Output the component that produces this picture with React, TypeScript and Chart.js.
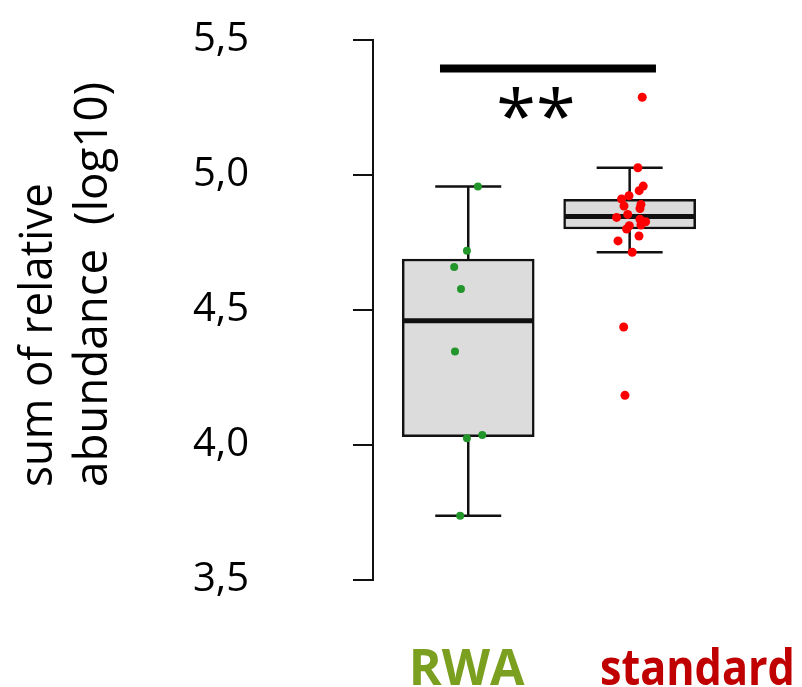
import { useEffect, useRef } from 'react';
import { Chart, registerables } from 'chart.js';

Chart.register(...registerables);

// ---------- data ----------
const categories = ['RWA', 'standard'];
const categoryColors = ['#7b9f1f', '#c00000'];
const pointColors = ['#22962a', '#ff0000'];

const boxMin = [3.738, 4.714];
const boxQ1 = [4.031, 4.8];
const boxMedian = [4.46, 4.846];
const boxQ3 = [4.689, 4.91];
const boxMax = [4.957, 5.027];

const rwaJitter = [1.06, 0.992, 0.913, 0.955, 0.918, 0.992, 1.087, 0.95];
const rwaValues = [4.957, 4.719, 4.659, 4.578, 4.346, 4.025, 4.037, 3.738];

const standardJitter = [
  2.078, 2.051, 2.084, 2.059, 1.996, 1.95, 1.965, 2.07, 2.064, 1.988, 1.919,
  2.064, 2.099, 2.07, 1.998, 1.981, 2.058, 1.928, 2.016, 1.963, 1.971,
];
const standardValues = [
  5.288, 5.027, 4.959, 4.942, 4.923, 4.911, 4.885, 4.891, 4.876, 4.854, 4.843,
  4.836, 4.827, 4.815, 4.812, 4.8, 4.774, 4.756, 4.714, 4.437, 4.184,
];

const yTickValues = [3.5, 4.0, 4.5, 5.0, 5.5];
const yTitleLines = ['sum of relative', 'abundance  (log10)'];
const significanceLabel = '**';
const significanceLevel = 5.394;
const significanceSpan = [0.825, 2.163];

// ---------- plugin ----------
const FONT = '"Open Sans", "Noto Sans", sans-serif';
const BAR_INDEX = 2;

const boxPlotPlugin = {
  id: 'boxPlotExtras',
  afterDatasetDraw(chart: any, args: any) {
    if (args.index !== BAR_INDEX) return;
    const { ctx, scales } = chart;
    const xs = scales.x;
    const ys = scales.y;
    ctx.save();
    ctx.strokeStyle = '#111111';
    ctx.lineCap = 'butt';
    categories.forEach((_, i) => {
      const cx = xs.getPixelForValue(i + 1);
      const halfCap = 33;
      const halfBox = 65;
      const pMin = ys.getPixelForValue(boxMin[i]);
      const pQ1 = ys.getPixelForValue(boxQ1[i]);
      const pQ3 = ys.getPixelForValue(boxQ3[i]);
      const pMax = ys.getPixelForValue(boxMax[i]);
      const pMed = ys.getPixelForValue(boxMedian[i]);
      ctx.lineWidth = 2.5;
      ctx.beginPath();
      ctx.moveTo(cx, pQ3);
      ctx.lineTo(cx, pMax);
      ctx.moveTo(cx - halfCap, pMax);
      ctx.lineTo(cx + halfCap, pMax);
      ctx.moveTo(cx, pQ1);
      ctx.lineTo(cx, pMin);
      ctx.moveTo(cx - halfCap, pMin);
      ctx.lineTo(cx + halfCap, pMin);
      ctx.stroke();
      ctx.lineWidth = 5;
      ctx.beginPath();
      ctx.moveTo(cx - halfBox, pMed);
      ctx.lineTo(cx + halfBox, pMed);
      ctx.stroke();
    });
    ctx.restore();
  },
  afterDraw(chart: any) {
    const { ctx, scales } = chart;
    const xs = scales.x;
    const ys = scales.y;
    ctx.save();

    // y title
    ctx.fillStyle = '#000';
    ctx.font = `46px ${FONT}`;
    ctx.textAlign = 'left';
    ctx.textBaseline = 'alphabetic';
    ctx.save();
    ctx.translate(52, 487);
    ctx.rotate(-Math.PI / 2);
    ctx.fillText(yTitleLines[0], 0, 0, 304);
    ctx.fillText(yTitleLines[1], 0, 55, 405);
    ctx.restore();

    // significance bar
    const sy = ys.getPixelForValue(significanceLevel);
    ctx.strokeStyle = '#000';
    ctx.lineWidth = 8;
    ctx.beginPath();
    ctx.moveTo(xs.getPixelForValue(significanceSpan[0]), sy);
    ctx.lineTo(xs.getPixelForValue(significanceSpan[1]), sy);
    ctx.stroke();

    // stars
    ctx.font = `72px ${FONT}`;
    ctx.textAlign = 'center';
    const m = ctx.measureText(significanceLabel);
    const cy = ys.getPixelForValue(5.267);
    const base = cy + (m.actualBoundingBoxAscent - m.actualBoundingBoxDescent) / 2;
    ctx.fillText(significanceLabel, xs.getPixelForValue(1.42), base);

    // category labels
    ctx.font = `bold 50px ${FONT}`;
    ctx.textBaseline = 'alphabetic';
    const labelPos = [0.99, 2.42];
    const labelWidth = [121, 195];
    categories.forEach((c, i) => {
      ctx.fillStyle = categoryColors[i];
      ctx.fillText(c, xs.getPixelForValue(labelPos[i]), 685, labelWidth[i]);
    });
    ctx.restore();
  },
};

export default function App() {
  const ref = useRef<HTMLCanvasElement | null>(null);

  useEffect(() => {
    document.body.style.margin = '0';
    if (!ref.current) return;
    const chart = new Chart(ref.current, {
      type: 'bar',
      data: {
        datasets: [
          {
            type: 'scatter',
            label: 'standard',
            data: standardJitter.map((x, i) => ({ x, y: standardValues[i] })),
            backgroundColor: pointColors[1],
            borderWidth: 0,
            pointRadius: 4.5,
          } as any,
          {
            type: 'scatter',
            label: 'RWA',
            data: rwaJitter.map((x, i) => ({ x, y: rwaValues[i] })),
            backgroundColor: pointColors[0],
            borderWidth: 0,
            pointRadius: 4,
          } as any,
          {
            type: 'bar',
            label: 'box',
            data: categories.map((_, i) => ({ x: i + 1, y: [boxQ1[i], boxQ3[i]] })),
            backgroundColor: '#dcdcdc',
            borderColor: '#111111',
            borderWidth: 2.5,
            borderSkipped: false,
            barThickness: 132,
          } as any,
        ],
      },
      options: {
        animation: false,
        responsive: true,
        maintainAspectRatio: false,
        events: [],
        layout: { padding: { top: 40, bottom: 107, left: 0, right: 75.5 } },
        plugins: { legend: { display: false }, tooltip: { enabled: false }, title: { display: false } },
        scales: {
          x: { type: 'linear', min: 0.41, max: 2.6, display: false, offset: false },
          y: {
            type: 'linear',
            position: 'left',
            min: 3.5,
            max: 5.5,
            afterBuildTicks: (s: any) => {
              s.ticks = yTickValues.map((v) => ({ value: v }));
            },
            afterFit: (s: any) => {
              s.width = 373;
              s.paddingTop = 0;
              s.paddingBottom = 0;
            },
            ticks: {
              color: '#000',
              font: { family: FONT, size: 40 },
              padding: 104,
              callback: (v: any) => Number(v).toFixed(1).replace('.', ','),
            },
            grid: { drawOnChartArea: false, drawTicks: true, tickLength: 20, color: '#111', lineWidth: 2 },
            border: { display: true, color: '#111', width: 2 },
          },
        },
      } as any,
      plugins: [boxPlotPlugin],
    });
    return () => chart.destroy();
  }, []);

  return (
    <div style={{ position: 'relative', width: 802, height: 687 }}>
      <canvas ref={ref} />
    </div>
  );
}
